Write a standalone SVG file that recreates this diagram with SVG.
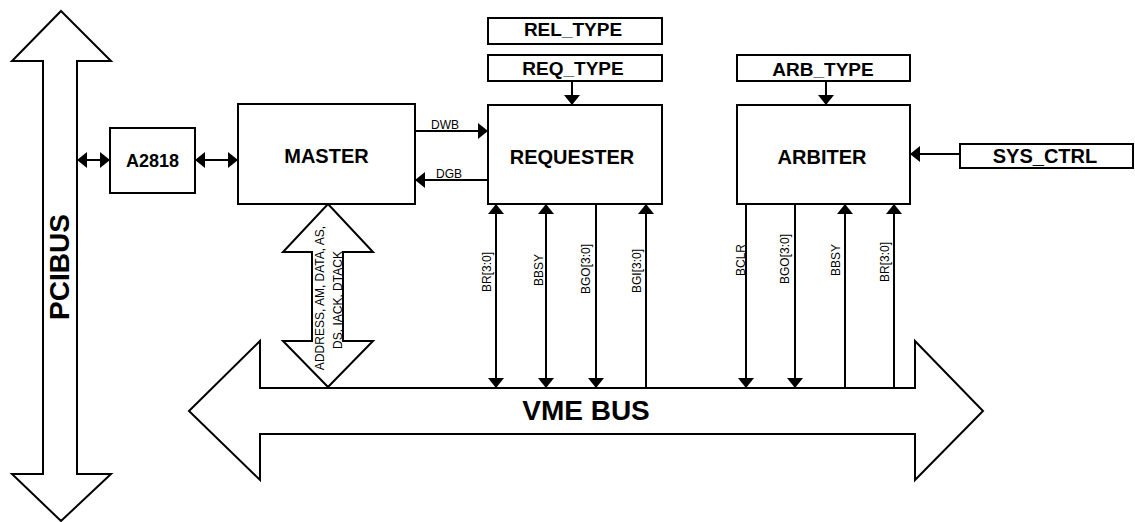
<svg xmlns="http://www.w3.org/2000/svg" width="1135" height="522" viewBox="0 0 1135 522">
<style>
.box{fill:#fff;stroke:#000;stroke-width:2}
.bus{fill:#fff;stroke:#000;stroke-width:2;stroke-linejoin:miter}
.ln{stroke:#000;stroke-width:2;fill:none}
.bt{font-family:"Liberation Sans",Arial,sans-serif;font-weight:bold;text-anchor:middle;fill:#000}
.st{font-family:"Liberation Sans",Arial,sans-serif;font-size:12px;fill:#000}
.vt{font-family:"Liberation Sans",Arial,sans-serif;font-size:12px;fill:#000;text-anchor:middle}
</style>
<defs>
<marker id="ah" markerUnits="userSpaceOnUse" markerWidth="10" markerHeight="16" refX="10" refY="8" orient="auto-start-reverse">
<path d="M0,0 L10,8 L0,16 z" fill="#000"/>
</marker>
</defs>

<g id="pcibus">
<polygon class="bus" points="61,11 111,61 77,61 77,474 111,474 61,521 12,474 43,474 43,61 12,61"/>
<text class="bt" font-size="28" transform="translate(69,267) rotate(-90)">PCIBUS</text>
</g>

<g id="vmebus">
<polygon class="bus" points="189,411 260,341 260,388 915,388 915,341 983,411 915,480 915,434 260,434 260,480"/>
<text class="bt" font-size="28" x="586" y="420">VME BUS</text>
</g>

<g id="addrbus">
<polygon class="bus" points="328,204 373,252 343,252 343,341 373,341 328,387 283,341 312,341 312,252 283,252"/>
<text class="vt" transform="translate(324,298) rotate(-90)">ADDRESS, AM, DATA, AS,</text>
<text class="vt" transform="translate(341.5,300) rotate(-90)">DS, IACK, DTACK</text>
</g>

<g id="a2818">
<rect class="box" x="110" y="128" width="85" height="65"/>
<text class="bt" font-size="18" x="152.5" y="167">A2818</text>
</g>

<g id="master">
<rect class="box" x="238" y="104" width="177" height="100"/>
<text class="bt" font-size="20" x="326.5" y="163">MASTER</text>
</g>

<g id="requester">
<rect class="box" x="488" y="105" width="174" height="99"/>
<text class="bt" font-size="20" x="572" y="163.5">REQUESTER</text>
</g>

<g id="rel_type">
<rect class="box" x="488" y="18" width="174" height="26"/>
<text class="bt" font-size="19" x="573" y="36">REL_TYPE</text>
</g>

<g id="req_type">
<rect class="box" x="488" y="55" width="174" height="26"/>
<text class="bt" font-size="19" x="573" y="75">REQ_TYPE</text>
</g>

<g id="arbiter">
<rect class="box" x="737" y="105" width="173" height="99"/>
<text class="bt" font-size="20" x="822" y="163.5">ARBITER</text>
</g>

<g id="arb_type">
<rect class="box" x="737" y="55" width="173" height="26"/>
<text class="bt" font-size="19" x="823" y="75.5">ARB_TYPE</text>
</g>

<g id="sys_ctrl">
<rect class="box" x="960" y="144" width="173" height="24"/>
<text class="bt" font-size="20" x="1045" y="163">SYS_CTRL</text>
</g>

<g id="connectors">
<line class="ln" x1="77" y1="160" x2="110" y2="160" marker-start="url(#ah)" marker-end="url(#ah)"/>
<line class="ln" x1="195" y1="160" x2="238" y2="160" marker-start="url(#ah)" marker-end="url(#ah)"/>
<line class="ln" x1="415" y1="131" x2="488" y2="131" marker-end="url(#ah)"/>
<text class="st" x="431" y="128.5">DWB</text>
<line class="ln" x1="488" y1="180" x2="415" y2="180" marker-end="url(#ah)"/>
<text class="st" x="436" y="177.5">DGB</text>
<line class="ln" x1="572" y1="81" x2="572" y2="105" marker-end="url(#ah)"/>
<line class="ln" x1="826" y1="81" x2="826" y2="105" marker-end="url(#ah)"/>
<line class="ln" x1="960" y1="154" x2="910" y2="154" marker-end="url(#ah)"/>

<line class="ln" x1="496" y1="204" x2="496" y2="388" marker-start="url(#ah)" marker-end="url(#ah)"/>
<text class="vt" transform="translate(491,272) rotate(-90)">BR[3:0]</text>
<line class="ln" x1="546" y1="204" x2="546" y2="388" marker-start="url(#ah)" marker-end="url(#ah)"/>
<text class="vt" transform="translate(543,270) rotate(-90)">BBSY</text>
<line class="ln" x1="596" y1="204" x2="596" y2="388" marker-end="url(#ah)"/>
<text class="vt" transform="translate(590,269) rotate(-90)">BGO[3:0]</text>
<line class="ln" x1="646" y1="388" x2="646" y2="204" marker-end="url(#ah)"/>
<text class="vt" transform="translate(641,271) rotate(-90)">BGI[3:0]</text>

<line class="ln" x1="746" y1="204" x2="746" y2="388" marker-end="url(#ah)"/>
<text class="vt" transform="translate(745,260) rotate(-90)">BCLR</text>
<line class="ln" x1="795" y1="204" x2="795" y2="388" marker-end="url(#ah)"/>
<text class="vt" transform="translate(789,259) rotate(-90)">BGO[3:0]</text>
<line class="ln" x1="845" y1="388" x2="845" y2="204" marker-end="url(#ah)"/>
<text class="vt" transform="translate(840,260) rotate(-90)">BBSY</text>
<line class="ln" x1="894" y1="388" x2="894" y2="204" marker-end="url(#ah)"/>
<text class="vt" transform="translate(889,262) rotate(-90)">BR[3:0]</text>
</g>
</svg>
